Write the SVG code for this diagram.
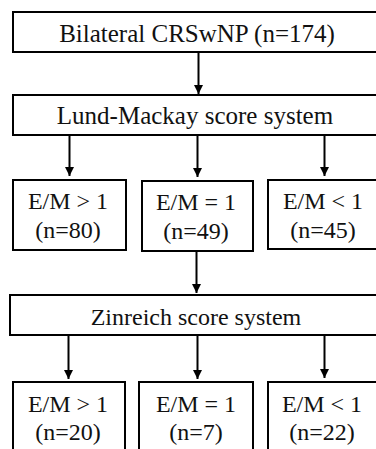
<svg xmlns="http://www.w3.org/2000/svg" width="376" height="449" viewBox="0 0 376 449">
<style>
.box{fill:#fff;stroke:#000;stroke-width:2}
.t{font-family:"Liberation Serif","Times New Roman",serif;font-size:24px;fill:#111;text-anchor:middle}
.c{stroke:#000;stroke-width:2;fill:none}
</style>
<defs>
<marker id="ah" viewBox="0 0 10 10" refX="10" refY="5" markerWidth="4.5" markerHeight="5" markerUnits="strokeWidth" orient="auto">
<path d="M0,0 L10,5 L0,10 Z" fill="#000"/>
</marker>
</defs>
<rect width="376" height="449" fill="#fff"/>
<g id="connectors">
<line class="c" x1="198.5" y1="52" x2="198.5" y2="94" marker-end="url(#ah)"/>
<line class="c" x1="69.5" y1="135" x2="69.5" y2="176" marker-end="url(#ah)"/>
<line class="c" x1="197.5" y1="135" x2="197.5" y2="177" marker-end="url(#ah)"/>
<line class="c" x1="324.5" y1="135" x2="324.5" y2="176" marker-end="url(#ah)"/>
<line class="c" x1="196.5" y1="251" x2="196.5" y2="293" marker-end="url(#ah)"/>
<line class="c" x1="68.5" y1="336" x2="68.5" y2="379" marker-end="url(#ah)"/>
<line class="c" x1="197.5" y1="336" x2="197.5" y2="379" marker-end="url(#ah)"/>
<line class="c" x1="324.5" y1="336" x2="324.5" y2="378" marker-end="url(#ah)"/>
</g>
<g id="n1"><rect class="box" x="13" y="12" width="380" height="40"/><text class="t" x="197" y="42" style="font-size:25px">Bilateral CRSwNP (n=174)</text></g>
<g id="n2"><rect class="box" x="13" y="95" width="380" height="40"/><text class="t" x="195" y="124" style="font-size:25px">Lund-Mackay score system</text></g>
<g id="n3"><rect class="box" x="13" y="180" width="113" height="70"/><text class="t" x="68" y="209">E/M &gt; 1</text><text class="t" x="68" y="238">(n=80)</text></g>
<g id="n4"><rect class="box" x="142" y="181" width="111" height="70"/><text class="t" x="196" y="210">E/M = 1</text><text class="t" x="196" y="239">(n=49)</text></g>
<g id="n5"><rect class="box" x="268" y="180" width="125" height="69"/><text class="t" x="323" y="209">E/M &lt; 1</text><text class="t" x="323" y="238">(n=45)</text></g>
<g id="n6"><rect class="box" x="10" y="295" width="383" height="40"/><text class="t" x="196" y="325">Zinreich score system</text></g>
<g id="n7"><rect class="box" x="13" y="382" width="112" height="80"/><text class="t" x="68" y="412">E/M &gt; 1</text><text class="t" x="68" y="440">(n=20)</text></g>
<g id="n8"><rect class="box" x="139" y="382" width="114" height="80"/><text class="t" x="196" y="412">E/M = 1</text><text class="t" x="196" y="440">(n=7)</text></g>
<g id="n9"><rect class="box" x="268" y="382" width="125" height="80"/><text class="t" x="322" y="412">E/M &lt; 1</text><text class="t" x="322" y="440">(n=22)</text></g>
</svg>
